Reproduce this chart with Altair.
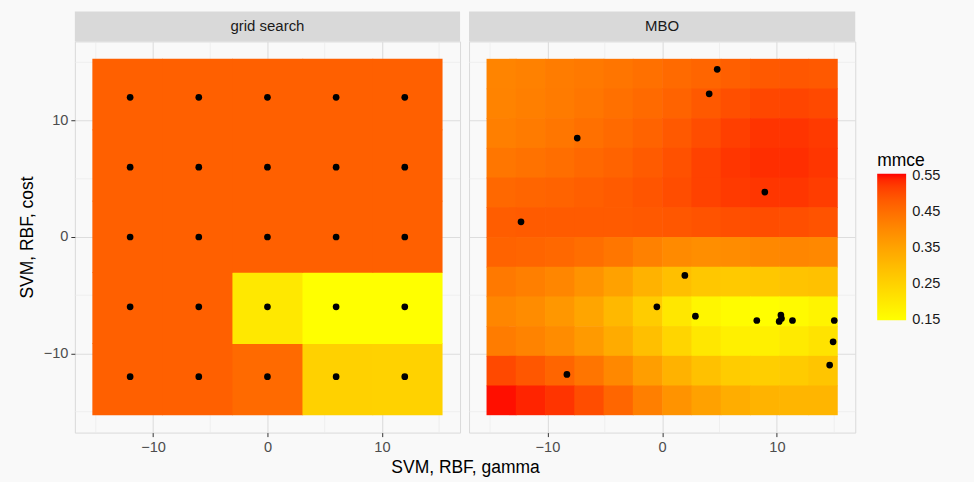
import altair as alt
import pandas as pd

FONT = "Liberation Sans"

# ---------------- data ----------------
# grid search: tuned points (gamma, cost) and their mmce
grid_gamma = [-12, -6, 0, 6, 12]
grid_cost = [-12, -6, 0, 6, 12]
grid_edges = [-15.3, -9.18, -3.06, 3.06, 9.18, 15.3]
# rows: cost -12 .. 12 ; columns: gamma -12 .. 12
grid_mmce = [
    [0.474, 0.474, 0.458, 0.252, 0.248],
    [0.474, 0.474, 0.199, 0.148, 0.148],
    [0.474, 0.474, 0.474, 0.474, 0.474],
    [0.474, 0.474, 0.474, 0.474, 0.474],
    [0.474, 0.474, 0.474, 0.474, 0.474],
]

# MBO: surrogate surface (cell centers)
mbo_centers = [-14.03, -11.48, -8.93, -6.38, -3.83, -1.28, 1.28, 3.83, 6.38, 8.93, 11.48, 14.03]
mbo_halfwidth = 1.275
# rows: cost from high (14) to low (-14); columns: gamma from -14 to 14
mbo_mmce = [
    [0.410, 0.417, 0.425, 0.432, 0.439, 0.447, 0.457, 0.466, 0.475, 0.484, 0.487, 0.484],
    [0.413, 0.421, 0.428, 0.436, 0.447, 0.457, 0.469, 0.484, 0.498, 0.508, 0.511, 0.506],
    [0.421, 0.428, 0.436, 0.447, 0.457, 0.469, 0.484, 0.500, 0.518, 0.529, 0.529, 0.523],
    [0.436, 0.443, 0.450, 0.460, 0.469, 0.481, 0.495, 0.514, 0.527, 0.534, 0.534, 0.527],
    [0.460, 0.466, 0.469, 0.475, 0.481, 0.489, 0.500, 0.514, 0.523, 0.527, 0.527, 0.520],
    [0.478, 0.481, 0.481, 0.481, 0.481, 0.484, 0.487, 0.492, 0.498, 0.500, 0.498, 0.492],
    [0.469, 0.466, 0.460, 0.450, 0.436, 0.417, 0.399, 0.391, 0.395, 0.403, 0.407, 0.403],
    [0.432, 0.421, 0.407, 0.382, 0.354, 0.319, 0.290, 0.273, 0.269, 0.273, 0.281, 0.285],
    [0.407, 0.395, 0.374, 0.345, 0.306, 0.261, 0.203, 0.168, 0.155, 0.150, 0.159, 0.172],
    [0.425, 0.413, 0.395, 0.367, 0.332, 0.290, 0.243, 0.203, 0.181, 0.181, 0.195, 0.212],
    [0.506, 0.487, 0.466, 0.439, 0.403, 0.359, 0.319, 0.285, 0.261, 0.257, 0.265, 0.277],
    [0.552, 0.542, 0.529, 0.500, 0.463, 0.421, 0.382, 0.354, 0.328, 0.315, 0.311, 0.311],
]

# MBO evaluated points
mbo_gamma = [4.8, 4.1, -7.4, 8.95, -12.3, 1.98, -0.46, 2.9, 8.25, 10.35, 10.2, 10.4, 11.36, 15.0, 14.9, 14.6, -8.3]
mbo_cost = [14.4, 12.3, 8.5, 3.86, 1.3, -3.3, -6.0, -6.8, -7.17, -6.7, -7.25, -7.0, -7.17, -7.17, -9.0, -11.0, -11.8]

minor_breaks = [-15, -5, 5, 15]
major_breaks = [-10, 0, 10]
legend_breaks = [0.15, 0.25, 0.35, 0.45, 0.55]
mmce_limits = [0.148, 0.556]

# tiny overlap between neighbouring cells (data units) to hide antialiasing seams
SEAM = 0.06

# ---------------- tables ----------------
grid_rows = []
for i, c in enumerate(grid_cost):
    for j, g in enumerate(grid_gamma):
        last_x = j == len(grid_gamma) - 1
        last_y = i == len(grid_cost) - 1
        grid_rows.append(dict(gamma=g, cost=c, mmce=grid_mmce[i][j],
                              x0=grid_edges[j], x1=grid_edges[j + 1] + (0 if last_x else SEAM),
                              y0=grid_edges[i], y1=grid_edges[i + 1] + (0 if last_y else SEAM)))
grid_df = pd.DataFrame(grid_rows)

mbo_rows = []
mbo_cost_desc = list(reversed(mbo_centers))
n = len(mbo_centers)
for i, c in enumerate(mbo_cost_desc):
    for j, g in enumerate(mbo_centers):
        mbo_rows.append(dict(mmce=mbo_mmce[i][j],
                             x0=g - mbo_halfwidth,
                             x1=g + mbo_halfwidth + (0 if j == n - 1 else SEAM),
                             y0=c - mbo_halfwidth - (0 if i == n - 1 else SEAM),
                             y1=c + mbo_halfwidth))
mbo_df = pd.DataFrame(mbo_rows)
mbo_pts = pd.DataFrame({"gamma": mbo_gamma, "cost": mbo_cost})
minor_df = pd.DataFrame({"v": minor_breaks})

# ---------------- scales / axes ----------------
W1, W2, H = 386, 387, 392
xs = alt.Scale(domain=[-16.83, 16.83], nice=False, zero=False)
ys = alt.Scale(domain=[-16.8, 16.8], nice=False, zero=False)
cs = alt.Scale(domain=mmce_limits, range=["#FFFF00", "#FF0000"], interpolate="lab")

x_axis_left = alt.Axis(values=major_breaks, format="d", title="SVM, RBF, gamma",
                       titleX=391, titleY=40, titleBaseline="alphabetic", titleAlign="center")
x_axis_right = alt.Axis(values=major_breaks, format="d", title=None)
y_axis_left = alt.Axis(values=major_breaks, format="d", title="SVM, RBF, cost",
                       titleX=-42, titleY=H / 2, titleAngle=270, titleAlign="center",
                       titleBaseline="alphabetic")
y_axis_right = alt.Axis(values=major_breaks, title=None, labels=False, ticks=False)

legend = alt.Legend(title="mmce", type="gradient", values=legend_breaks, format=".2f",
                    orient="none", direction="vertical",
                    legendX=804, legendY=111, gradientLength=147, gradientThickness=29,
                    titleFontSize=17.5, labelFontSize=14.6, titleFont=FONT, labelFont=FONT,
                    titleFontWeight="normal", titleColor="#000000", labelColor="#1A1A1A",
                    titlePadding=4, labelOffset=6, gradientStrokeWidth=0)


def panel(label, tiles, points, width, xaxis, yaxis, show_legend):
    X = lambda f: alt.X(f, type="quantitative", scale=xs, axis=xaxis)
    Y = lambda f: alt.Y(f, type="quantitative", scale=ys, axis=yaxis)
    vgrid = alt.Chart(minor_df).mark_rule(color="#EBEBEB", strokeWidth=0.7).encode(x=X("v"))
    hgrid = alt.Chart(minor_df).mark_rule(color="#EBEBEB", strokeWidth=0.7).encode(y=Y("v"))
    rect = alt.Chart(tiles).mark_rect().encode(
        x=X("x0"), x2="x1", y=Y("y0"), y2="y1",
        color=alt.Color("mmce:Q", scale=cs, legend=legend if show_legend else None),
    )
    pts = alt.Chart(points).mark_circle(color="#000000", size=45, opacity=1).encode(
        x=X("gamma"), y=Y("cost"))
    strip_df = pd.DataFrame({"label": [label]})
    strip = alt.Chart(strip_df).mark_rect(color="#D9D9D9").encode(
        x=alt.value(0), x2=alt.value(width), y=alt.value(-30), y2=alt.value(0))
    strip_txt = alt.Chart(strip_df).mark_text(font=FONT, fontSize=15, color="#1A1A1A",
                                              baseline="middle", align="center").encode(
        x=alt.value(width / 2), y=alt.value(-15), text="label:N")
    return alt.layer(vgrid, hgrid, rect, pts, strip, strip_txt).properties(width=width, height=H)


left = panel("grid search", grid_df, grid_df, W1, x_axis_left, y_axis_left, True)
right = panel("MBO", mbo_df, mbo_pts, W2, x_axis_right, y_axis_right, False)

chart = (
    alt.hconcat(left, right, spacing=9, bounds="flush")
    .resolve_scale(color="shared")
    .properties(padding={"left": 18, "top": 10, "right": 33, "bottom": 5},
                background="#F9F9F9")
    .configure_view(stroke="#DADADA", strokeWidth=1)
    .configure_axis(
        labelFont=FONT, labelFontSize=14.6, labelColor="#4D4D4D",
        titleFont=FONT, titleFontSize=17.5, titleColor="#000000", titleFontWeight="normal",
        tickColor="#333333", tickSize=4, tickWidth=1, labelPadding=3,
        gridColor="#DDDDDD", gridWidth=1.1, domain=False,
    )
)

chart.save("out.html", embed_options={"renderer": "svg", "actions": False})
